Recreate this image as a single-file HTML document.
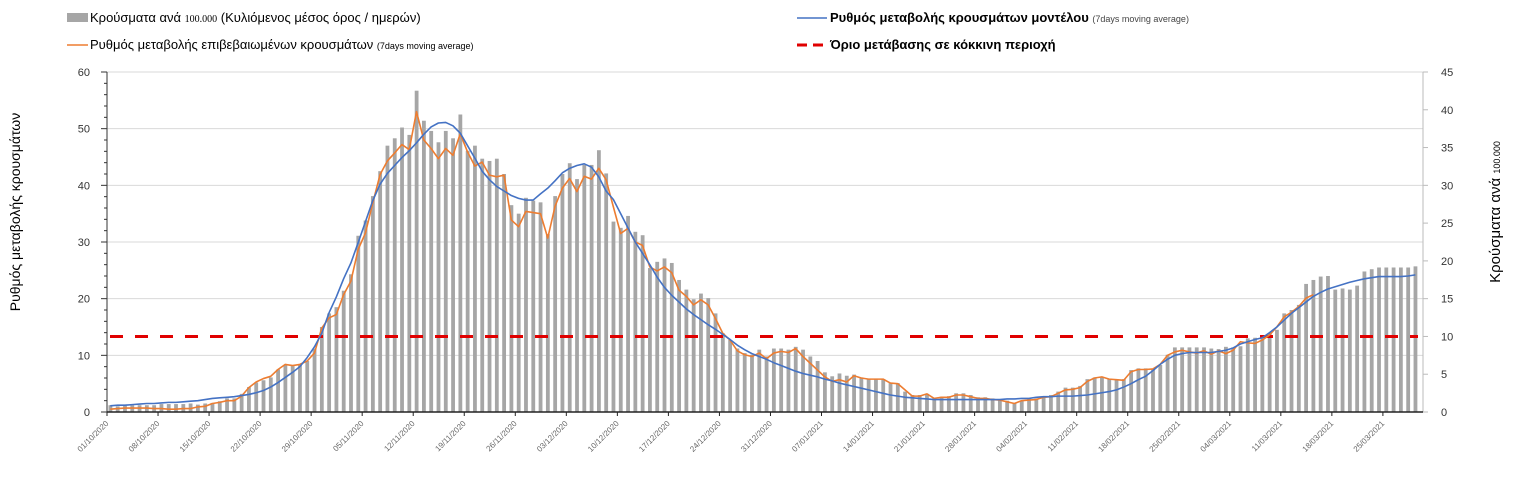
<!DOCTYPE html>
<html><head><meta charset="utf-8">
<style>
html,body{margin:0;padding:0;background:#fff;}
svg{display:block;font-family:"Liberation Sans",sans-serif;}
</style></head>
<body>
<svg id="chart" width="1515" height="492" viewBox="0 0 1515 492">
<g>
  <rect x="67" y="13" width="21" height="9" fill="#a6a6a6"/>
  <text x="90" y="22" font-size="13" fill="#000">Κρούσματα ανά <tspan font-family="Liberation Serif" font-size="10">100.000</tspan> (Κυλιόμενος μέσος όρος / ημερών)</text>
  <line x1="67" y1="45" x2="88" y2="45" stroke="#ed7d31" stroke-width="1.5"/>
  <text x="90" y="49" font-size="13" fill="#000">Ρυθμός μεταβολής επιβεβαιωμένων κρουσμάτων <tspan font-size="9">(7days moving average)</tspan></text>
  <line x1="797" y1="18" x2="827" y2="18" stroke="#4472c4" stroke-width="1.5"/>
  <text x="830" y="22" font-size="13" font-weight="bold" fill="#000">Ρυθμός μεταβολής κρουσμάτων μοντέλου <tspan font-size="9" font-weight="normal" fill="#444">(7days moving average)</tspan></text>
  <line x1="797" y1="45" x2="827" y2="45" stroke="#e00000" stroke-width="3" stroke-dasharray="10,6"/>
  <text x="830" y="49" font-size="13" font-weight="bold" fill="#000">Όριο μετάβασης σε κόκκινη περιοχή</text>
</g>
<text transform="translate(20,212) rotate(-90)" text-anchor="middle" font-size="14">Ρυθμός μεταβολής κρουσμάτων</text>
<text transform="translate(1500,212) rotate(-90)" text-anchor="middle" font-size="15">Κρούσματα ανά <tspan font-size="9">100.000</tspan></text>
<g id="grid"></g><g id="bars"></g><g id="lines"></g><g id="axes"></g>
</svg>
<script>
const startDate = [2020, 10, 1];
const leftTicks = [0,10,20,30,40,50,60];
const rightTicks = [0,5,10,15,20,25,30,35,40,45];
const threshold = [10];
// Cases per 100.000 (bars), in left-axis units (right axis = left*0.75)
const cases = [1.2,1.0,1.2,1.2,1.2,1.2,1.2, 1.4,1.4,1.4,1.4,1.5,1.3,1.5,
1.6,1.9,2.4,2.4,3.2,4.4,5.2, 5.6,6.1,7.5,8.3,8.1,8.3,9.0,
11.2,15,17.4,18.5,21.4,24.3,31.1, 33.8,38.1,42.5,47,48.3,50.2,48.9,
56.7,51.4,49.6,47.6,49.6,48.3,52.5, 46.1,47,44.7,44.3,44.7,42,36.5,
35,37.8,37.3,37,31.4,38.1,42, 43.9,41.1,43.6,43.6,46.2,42.1,33.6,
32.5,34.6,31.8,31.2,25.4,26.5,27.1, 26.3,23.3,21.6,19.9,20.9,20.1,17.4,
13.9,12.7,11.2,10.4,10.1,11,9.8, 11.2,11.2,11,11.5,11,9.8,9,
7,6.3,6.8,6.4,6.6,6.1,5.8, 5.8,5.8,5.1,5.1,3.6,3.0,3.0,
3.2,2.4,2.7,2.8,3.3,3.3,3.0, 2.6,2.6,2.4,2.2,2.0,1.6,2.0,
2.4,2.4,2.7,3.0,3.6,4.3,4.3, 4.6,5.8,6.1,6.1,5.8,5.8,5.8,
7.4,7.7,7.7,7.5,8.3,10.1,11.4, 11.4,11.4,11.4,11.4,11.2,11.1,11.5,
11.4,11.6,13,13.1,13.3,13.9,14.5, 17.4,18,18.9,22.6,23.3,23.9,24,
21.6,21.8,21.6,22.3,24.8,25.2,25.5, 25.5,25.5,25.5,25.5,25.7];
const confirmedRate = [0.5,0.6,0.7,0.7,0.7,0.7,0.6,0.6,0.5,0.5,0.6,0.6,0.9,1.0,
1.5,1.7,2.0,2.0,2.8,4.3,5.3, 5.9,6.3,7.5,8.4,8.2,8.4,9.0,
10.4,14.8,16.6,17.2,20.7,23.1,28.7, 31.6,36.9,41.9,44.3,45.7,47.2,46.3,
53,48,46.5,44.7,46.5,45.3,49.1, 45.9,43.4,44.1,41.8,41.5,41.8,33.9,
32.7,35.4,35.2,35,30.7,36.3,39.5, 41.2,38.9,41.6,41.1,43,41,36.2,
31.5,32.4,30,29.4,25.6,24.9,25.6, 24.6,21.5,20.4,18.9,19.8,18.9,16.5,
13.9,12.7,10.8,10.1,9.8,10.4,9.4, 10.4,10.7,10.5,11.2,9.8,8.6,7.4,
6.2,5.4,5.7,5.3,6.4,6,5.8, 5.8,5.8,5.1,5.0,3.9,2.8,2.8,
3.2,2.4,2.6,2.6,3,3,2.7, 2.4,2.4,2.2,2.1,1.8,1.5,2,
2.1,2.2,2.6,2.7,3.3,3.9,4, 4.3,5.4,6,6.2,5.8,5.7,5.6,
7.1,7.5,7.5,7.6,8.4,10,10.6, 10.9,10.6,10.4,10.8,10.2,10.8,10.3,
10.9,12.4,12.2,12.1,12.7,13.6,15, 16.8,17.6,18.6,20.1,20.7];
const modelRate = [1.1,1.2,1.2,1.3,1.4,1.5,1.5,1.6,1.7,1.7,
1.8,1.9,2.0,2.2,2.4,2.5,2.6,2.7,2.9,3.1,
3.4,3.8,4.4,5.2,6.1,7.0,8.0,9.6,11.5,13.9,
17.5,20.3,23.5,26.3,29.9,33.6,37.3,40.2,42.1,43.5,
44.9,46.1,47.5,49,50.3,51,51.1,50.5,49.2,47,
44.8,42.5,41,39.8,39,38.2,37.7,37.4,37.4,38.5,
39.5,40.8,42.2,43,43.5,43.8,43.2,41.5,39,37.5,
35,32.5,30,28,26,23.8,22,20.6,19.4,18.2,
17.2,16.3,15.4,14.6,13.7,12.8,11.8,11,10.3,9.8,
9.3,8.7,8.2,7.7,7.2,6.8,6.5,6.2,5.8,5.5,
5.1,4.8,4.5,4.2,3.9,3.6,3.3,3.0,2.8,2.6,
2.5,2.4,2.3,2.2,2.2,2.2,2.2,2.2,2.2,2.2,
2.2,2.2,2.2,2.3,2.3,2.4,2.4,2.6,2.7,2.7,
2.8,2.8,2.8,2.9,3.0,3.2,3.4,3.6,3.9,4.4,
5.0,5.7,6.3,7.3,8.4,9.3,10.0,10.3,10.5,10.5,
10.5,10.5,10.7,10.9,11.3,12.0,12.4,12.8,13.1,14.0,
15.0,16.2,17.4,18.4,19.4,20.4,21.1,21.7,22.1,22.5,
22.9,23.2,23.5,23.7,23.9,23.9,23.9,23.9,24.0,24.2];

const NS='http://www.w3.org/2000/svg';
const X0=107, X1=1423, Y0=412, Y1=72;
const nSlots = cases.length + 0.5;
const slot = (X1-X0)/nSlots;
const xBand = d => X0 + slot*d + 1.5;
const xMid = d => X0 + slot*d + 3.3;
const yL = v => Y0 - (v/60)*(Y0-Y1);
const yR = v => Y0 - (v/45)*(Y0-Y1);
function mk(tag, attrs, parent){const e=document.createElementNS(NS,tag);for(const k in attrs)e.setAttribute(k,attrs[k]);parent.appendChild(e);return e;}
const grid=document.getElementById('grid'), bars=document.getElementById('bars'), lines=document.getElementById('lines'), axes=document.getElementById('axes');

leftTicks.forEach(t=>{
  if(t>0){const g=mk('line',{x1:X0,x2:X1,y1:yL(t),y2:yL(t),stroke:'#d9d9d9','stroke-width':1},grid);
  
  }
  const tx=mk('text',{x:X0-17,y:yL(t)+4,'text-anchor':'end','font-size':11,fill:'#333'},axes);
  tx.textContent=t;
  
  
});
for(let v=0;v<=60;v+=2){mk('line',{x1:X0-(v%10===0?6:3),x2:X0,y1:yL(v),y2:yL(v),stroke:'#333','stroke-width':1},axes);}
rightTicks.forEach(t=>{
  mk('line',{x1:X1,x2:X1+5,y1:yR(t),y2:yR(t),stroke:'#bbb','stroke-width':1},axes);
  const tx=mk('text',{x:1441,y:yR(t)+4,'font-size':11,fill:'#333'},axes);
  tx.textContent=t;
  
  
});
const ra=mk('line',{x1:X1,x2:X1,y1:Y1,y2:Y0,stroke:'#bbb','stroke-width':1},axes);


const la=mk('line',{x1:X0,x2:X0,y1:Y1,y2:Y0,stroke:'#333','stroke-width':1},axes);


const xa=mk('line',{x1:X0,x2:X1,y1:Y0,y2:Y0,stroke:'#222','stroke-width':1.5},axes);



function fmt(d){const dt=new Date(startDate[0],startDate[1]-1,startDate[2]+d);
  return String(dt.getDate()).padStart(2,'0')+'/'+String(dt.getMonth()+1).padStart(2,'0')+'/'+dt.getFullYear();}
for(let d=0; d<cases.length; d+=7){
  const x=X0+slot*d;
  mk('line',{x1:x,x2:x,y1:Y0,y2:Y0+4,stroke:'#222','stroke-width':1},axes);
  const tx=mk('text',{x:0,y:0,'text-anchor':'end','font-size':8,fill:'#666',transform:`translate(${x+2},${Y0+12}) rotate(-45)`},axes);
  tx.textContent=fmt(d);
  
  
}
cases.forEach((v,d)=>{
  const r=mk('rect',{x:xBand(d),y:yL(v),width:3.8,height:Y0-yL(v),fill:'#a6a6a6'},bars);
  
  
});
const th=mk('line',{x1:X0+3,x2:X1-5,y1:yR(threshold[0]),y2:yR(threshold[0]),stroke:'#e00000','stroke-width':3,'stroke-dasharray':'13,12'},lines);


const po=mk('polyline',{points:confirmedRate.map((v,d)=>xMid(d)+','+yL(v)).join(' '),fill:'none',stroke:'#ed7d31','stroke-width':1.6,'stroke-linejoin':'round'},lines);


const pb=mk('polyline',{points:modelRate.map((v,d)=>xMid(d)+','+yL(v)).join(' '),fill:'none',stroke:'#4472c4','stroke-width':1.6,'stroke-linejoin':'round'},lines);


</script>
</body></html>
